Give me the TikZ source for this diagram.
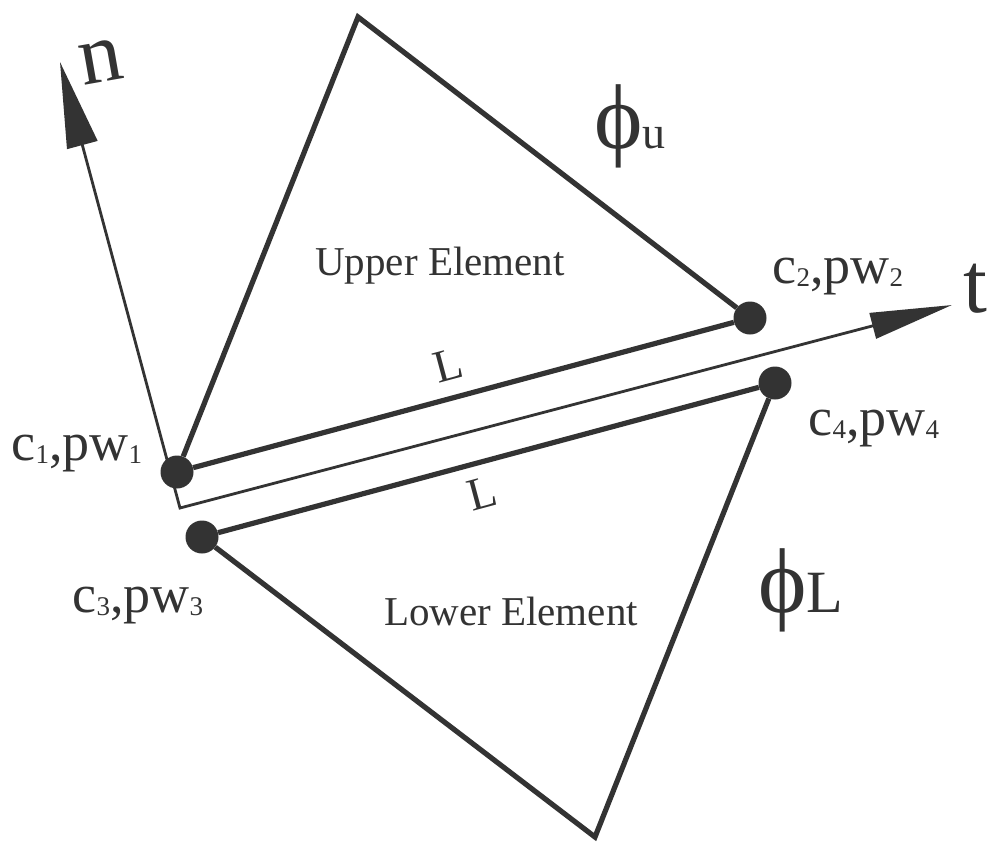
\documentclass[tikz,border=0pt]{standalone}
\usepackage{fontspec}
\setmainfont{Liberation Serif}
\usetikzlibrary{arrows.meta}
\newcommand\lsub[1]{\raisebox{-3pt}{\fontsize{27}{27}\selectfont #1}}
\begin{document}
\begin{tikzpicture}[x=1pt,y=-1pt,
  dot/.style={circle,fill=black!80,inner sep=0pt,minimum size=33pt},
  edge/.style={draw=black!80,line width=5.2pt},
  axis/.style={draw=black!80,line width=2.8pt,{Triangle[length=86pt,width=31pt]}-{Triangle[length=82pt,width=26pt]}},
  lab/.style={text=black!80,inner sep=0pt,font=\fontsize{54}{54}\selectfont},
  elab/.style={text=black!80,inner sep=0pt,font=\fontsize{41}{41}\selectfont},
  big/.style={text=black!80,inner sep=0pt,font=\fontsize{86}{86}\selectfont},
  phil/.style={text=black!80,inner sep=0pt,font=\fontsize{92}{92}\selectfont},
  llab/.style={text=black!80,inner sep=0pt,font=\fontsize{46}{46}\selectfont,rotate=15}]
\useasboundingbox (0,0) rectangle (993,844);
\fill[white] (0,0) rectangle (993,844);
% axes
\coordinate (O) at (180,508);
\coordinate (nt) at (60,62);
\coordinate (tt) at (952,305);
\draw[axis] (nt) -- (O) -- (tt);
% apexes
\coordinate (ua) at (358,17);
\coordinate (la) at (595,837);
% corner dots
\node[dot] (c1) at (177,472) {};
\node[dot] (c2) at (750,318) {};
\node[dot] (c3) at (202,537) {};
\node[dot] (c4) at (775,383) {};
% elements
\draw[edge] (c1) -- (ua) -- (c2);
\draw[edge] (c1) -- (c2);
\draw[edge] (c3) -- (c4);
\draw[edge] (c4) -- (la) -- (c3);
% labels
\node[big,anchor=base,rotate=10] (nl) at (105,82) {n};
\node[big,anchor=base] (tl) at (975,312) {t};
\node[lab,anchor=base] (c1l) at (77,460) {c\lsub{1},pw\lsub{1}};
\node[lab,anchor=base] (c2l) at (838,283) {c\lsub{2},pw\lsub{2}};
\node[lab,anchor=base] (c3l) at (138,612) {c\lsub{3},pw\lsub{3}};
\node[lab,anchor=base] (c4l) at (874,435) {c\lsub{4},pw\lsub{4}};
\node[elab,anchor=base] (ue) at (440,275) {Upper Element};
\node[elab,anchor=base] (le) at (511,625) {Lower Element};
\node[llab,anchor=base] (lu) at (452,380) {L};
\node[llab,anchor=base] (ll) at (486,508) {L};
\node[phil,anchor=base west] (pu) at (594,148) {ϕ{\fontsize{46}{46}\selectfont u}};
\node[phil,anchor=base west] (pl) at (758,612) {ϕ{\fontsize{60}{60}\selectfont L}};
\end{tikzpicture}
\end{document}
